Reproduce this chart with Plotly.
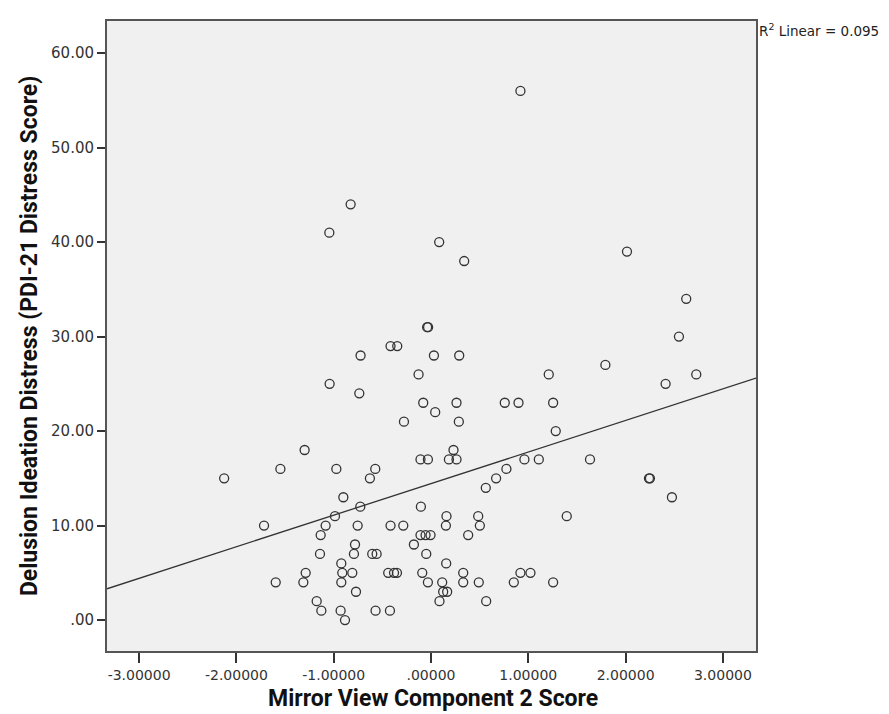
import numpy as np
import plotly.graph_objects as go

# Mirror View Component 2 Score vs PDI-21 distress score
mirror_score = [
    -0.826, -1.045, -0.04, -0.03, 0.919, 0.084, 0.341, 2.014, 2.623, 2.548,
    0.030, 0.290, 1.792, -0.128, 1.210, 2.726, 2.411, -0.080, 0.262, 0.758,
    0.899, 1.255, 0.043, 0.286, -0.278, 1.282, 0.231, -0.108, -0.032, 0.184,
    0.262, 0.960, 1.108, 1.634, 0.775, 0.669, 2.24, 2.25, 0.563, 2.476,
    -0.104, 1.395, 0.159, 0.485, 0.153, 0.502, -0.108, -0.056, -0.005, 0.382,
    -0.176, -0.049, 0.156, -0.090, 0.331, 0.919, 1.022, -0.032, 0.115, 0.331,
    0.491, 0.851, 1.255, 0.125, 0.166, 0.087, 0.567,
    -0.416, -0.347, -0.724, -1.042, -0.737, -1.299, -1.548, -0.973, -0.573,
    -2.126, -0.628, -0.901, -0.727, -0.987, -1.716, -1.083, -0.754, -0.416,
    -0.285, -1.134, -0.781, -1.141, -0.792, -0.604, -0.559, -0.922, -1.288,
    -0.912, -0.809, -0.44, -0.38, -0.35, -1.596, -1.312, -0.922, -0.771,
    -1.175, -1.127, -0.929, -0.570, -0.422, -0.884,
]
distress = [
    44, 41, 31, 31, 56, 40, 38, 39, 34, 30,
    28, 28, 27, 26, 26, 26, 25, 23, 23, 23,
    23, 23, 22, 21, 21, 20, 18, 17, 17, 17,
    17, 17, 17, 17, 16, 15, 15, 15, 14, 13,
    12, 11, 11, 11, 10, 10, 9, 9, 9, 9,
    8, 7, 6, 5, 5, 5, 5, 4, 4, 4,
    4, 4, 4, 3, 3, 2, 2,
    29, 29, 28, 25, 24, 18, 16, 16, 16,
    15, 15, 13, 12, 11, 10, 10, 10, 10,
    10, 9, 8, 7, 7, 7, 7, 6, 5,
    5, 5, 5, 5, 5, 4, 4, 4, 3,
    2, 1, 1, 1, 1, 0,
]

x_range = [-3.33, 3.34]
y_range = [-3.27, 63.4]
x_ticks = [-3, -2, -1, 0, 1, 2, 3]
x_labels = ["-3.00000", "-2.00000", "-1.00000", ".00000", "1.00000", "2.00000", "3.00000"]
y_ticks = [0, 10, 20, 30, 40, 50, 60]
y_labels = [".00", "10.00", "20.00", "30.00", "40.00", "50.00", "60.00"]

# linear fit, drawn across the whole x axis like SPSS does
x = np.array(mirror_score)
y = np.array(distress, dtype=float)
slope, intercept = np.polyfit(x, y, 1)
fit_x = np.array(x_range)
fit_y = intercept + slope * fit_x

fig = go.Figure()
fig.add_trace(go.Scatter(
    x=mirror_score, y=distress, mode="markers",
    marker=dict(symbol="circle-open", size=9, color="#333333", line=dict(width=1.3)),
    showlegend=False,
))
fig.add_trace(go.Scatter(
    x=fit_x, y=fit_y, mode="lines",
    line=dict(color="#333333", width=1.3), showlegend=False,
))

fig.update_xaxes(
    range=x_range, tickvals=x_ticks, ticktext=x_labels, showgrid=False, zeroline=False,
    ticks="outside", ticklen=10, tickwidth=1.5, tickcolor="#333333",
    showline=True, mirror=True, linecolor="#555555", linewidth=2,
    tickfont=dict(family="DejaVu Sans", size=14, color="#333333"),
)
fig.update_yaxes(
    range=y_range, tickvals=y_ticks, ticktext=y_labels, showgrid=False, zeroline=False,
    ticks="outside", ticklen=8, tickwidth=1.5, tickcolor="#333333",
    showline=True, mirror=True, linecolor="#555555", linewidth=2,
    tickfont=dict(family="DejaVu Sans", size=15, color="#333333"),
)

title_font = dict(family="Liberation Sans Narrow, Roboto, sans-serif", size=23, color="#111111")
fig.add_annotation(
    text="<b>Mirror View Component 2 Score</b>", xref="paper", yref="paper",
    x=0.502, y=-0.076, showarrow=False, font=title_font, yanchor="middle",
)
fig.add_annotation(
    text="<b>Delusion Ideation Distress (PDI-21 Distress Score)</b>", xref="paper", yref="paper",
    x=-0.12, y=0.5, textangle=-90, showarrow=False, font=title_font,
    xanchor="center", yanchor="middle",
)
fig.add_annotation(
    text="R<sup>2</sup> Linear = 0.095", xref="paper", yref="paper",
    x=1.002, y=1.003, xanchor="left", yanchor="top", showarrow=False,
    font=dict(family="DejaVu Sans", size=13.5, color="#222222"),
)

fig.update_layout(
    width=889, height=714,
    margin=dict(l=99, r=141, t=11, b=71),
    plot_bgcolor="#f0f0f0", paper_bgcolor="white",
)

fig.write_html("out.html")
